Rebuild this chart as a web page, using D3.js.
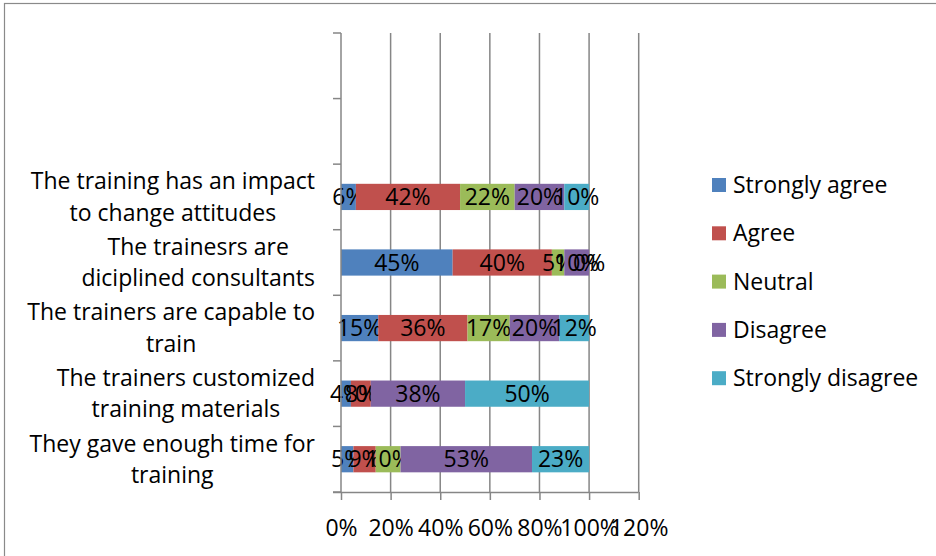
<!DOCTYPE html>
<html>
<head>
<meta charset="utf-8">
<script src="https://cdn.jsdelivr.net/npm/d3@7"></script>
<style>
  html, body { margin: 0; padding: 0; background: #fff; }
  svg { display: block; }
  text { font-family: "Open Sans", Lato, sans-serif; fill: #000; }
</style>
</head>
<body>
<svg id="chart" width="936" height="556"></svg>
<script>
// Survey statements, bottom to top; the two top slots of the axis are empty rows.
const categories = [
  "They gave enough time for training",
  "The trainers customized training materials",
  "The trainers are capable to train",
  "The trainesrs are diciplined consultants",
  "The training has an impact to change attitudes",
  "",
  " "
];
const categoryLines = [
  ["They gave enough time for", "training"],
  ["The trainers customized", "training materials"],
  ["The trainers are capable to", "train"],
  ["The trainesrs are", "diciplined consultants"],
  ["The training has an impact", "to change attitudes"],
  [],
  []
];

const seriesNames = ["Strongly agree", "Agree", "Neutral", "Disagree", "Strongly disagree"];
const seriesColors = ["#4F81BD", "#C0504D", "#9BBB59", "#8064A2", "#4BACC6"];

// Percentages per statement (same order as the first five categories)
const stronglyAgree    = [5, 4, 15, 45, 6];
const agree            = [9, 8, 36, 40, 42];
const neutral          = [10, 0, 17, 5, 22];
const disagree         = [53, 38, 20, 10, 20];
const stronglyDisagree = [23, 50, 12, 0, 10];

const xTicks = [0, 20, 40, 60, 80, 100, 120];

const seriesValues = [stronglyAgree, agree, neutral, disagree, stronglyDisagree];
const rows = categories.slice(0, 5).map((c, i) => {
  const r = { category: c };
  seriesNames.forEach((s, k) => { r[s] = seriesValues[k][i]; });
  return r;
});

const svg = d3.select("#chart");
const axisColor = "#868686";
const fontSize = 23;
const fontFamily = "'Open Sans', Lato, sans-serif";

// outer chart frame
svg.append("rect")
  .attr("x", 4.5).attr("y", 3.5)
  .attr("width", 960).attr("height", 600)
  .attr("fill", "none").attr("stroke", "#8a8a8a").attr("stroke-width", 1.2);

const plot = { left: 341, right: 638.7, top: 33, bottom: 492 };

const x = d3.scaleLinear().domain([0, 120]).range([plot.left, plot.right]);
const y = d3.scaleBand()
  .domain(categories)
  .range([plot.bottom, plot.top])
  .paddingInner(0.6)
  .paddingOuter(0.3);

// vertical gridlines
svg.append("g")
  .selectAll("line")
  .data(xTicks.slice(1))
  .join("line")
  .attr("x1", d => x(d)).attr("x2", d => x(d))
  .attr("y1", plot.top).attr("y2", plot.bottom)
  .attr("stroke", axisColor).attr("stroke-width", 1.5);

// stacked bars
const stack = d3.stack().keys(seriesNames)(rows);
const layers = svg.append("g")
  .selectAll("g")
  .data(stack)
  .join("g")
  .attr("fill", (d, i) => seriesColors[i]);

layers.selectAll("rect")
  .data(d => d)
  .join("rect")
  .attr("x", d => x(d[0]))
  .attr("width", d => x(d[1]) - x(d[0]))
  .attr("y", d => y(d.data.category))
  .attr("height", y.bandwidth());

// y axis with category boundary ticks
const yAxis = svg.append("g");
yAxis.append("line")
  .attr("x1", plot.left).attr("x2", plot.left)
  .attr("y1", plot.top).attr("y2", plot.bottom)
  .attr("stroke", axisColor).attr("stroke-width", 1.5);
const step = y.step();
const boundaries = d3.range(categories.length + 1).map(i => plot.bottom - i * step);
yAxis.selectAll("line.tick")
  .data(boundaries)
  .join("line")
  .attr("class", "tick")
  .attr("x1", plot.left - 8).attr("x2", plot.left)
  .attr("y1", d => d).attr("y2", d => d)
  .attr("stroke", axisColor).attr("stroke-width", 1.5);

// x axis
const xAxis = svg.append("g").attr("transform", `translate(0,${plot.bottom})`)
  .call(d3.axisBottom(x).tickValues(xTicks).tickSize(8).tickFormat(d => d + "%"));
xAxis.select(".domain").attr("stroke", axisColor).attr("stroke-width", 1.5)
  .attr("d", `M${plot.left - 8},0.5H${plot.right}`);
xAxis.selectAll(".tick line").attr("stroke", axisColor).attr("stroke-width", 1.5);
xAxis.selectAll(".tick text")
  .attr("y", 36).attr("dy", "0.35em")
  .attr("font-size", fontSize)
  .attr("font-family", fontFamily)
  .attr("fill", "#000");

// data labels
layers.each(function(layer, k) {
  d3.select(this).selectAll("text")
    .data(layer)
    .join("text")
    .attr("x", d => x((d[0] + d[1]) / 2))
    .attr("y", d => y(d.data.category) + y.bandwidth() / 2)
    .attr("dy", "0.35em")
    .attr("text-anchor", "middle")
    .attr("font-size", fontSize)
    .text(d => (d[1] - d[0]) + "%");
});

// category labels: lines centred on each other, block right-aligned
const labelRight = 315;
const lineGap = 31.5;
categories.forEach((c, i) => {
  const lines = categoryLines[i];
  if (!lines.length) return;
  const cy = y(c) + y.bandwidth() / 2;
  const g = svg.append("g");
  const texts = lines.map((ln, j) => g.append("text")
    .attr("y", cy + (j - (lines.length - 1) / 2) * lineGap)
    .attr("dy", "0.35em")
    .attr("text-anchor", "middle")
    .attr("font-size", fontSize)
    .text(ln));
  const w = d3.max(texts, t => t.node().getComputedTextLength());
  texts.forEach(t => t.attr("x", labelRight - w / 2));
});

// legend
const legend = svg.append("g");
seriesNames.forEach((s, i) => {
  const cy = 185 + i * 48.3;
  legend.append("rect")
    .attr("x", 712).attr("y", cy - 7)
    .attr("width", 14).attr("height", 14)
    .attr("fill", seriesColors[i]);
  legend.append("text")
    .attr("x", 733).attr("y", cy)
    .attr("dy", "0.35em")
    .attr("font-size", fontSize)
    .text(s);
});
</script>
</body>
</html>
